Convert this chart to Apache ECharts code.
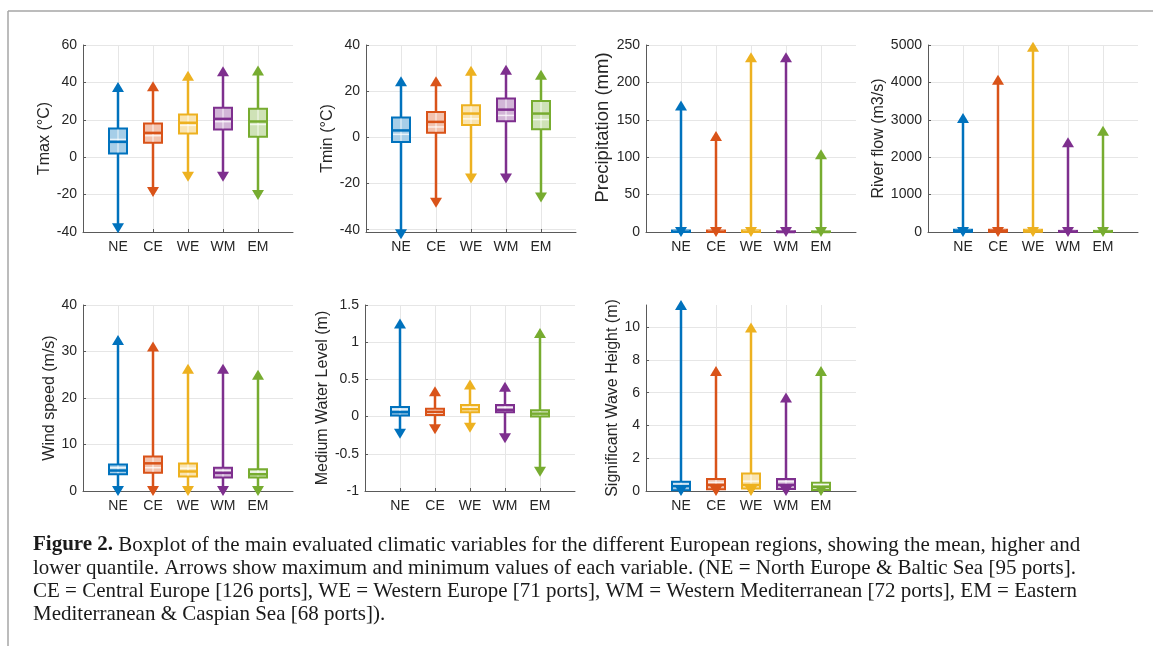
<!DOCTYPE html>
<html><head><meta charset="utf-8">
<script src="https://cdn.jsdelivr.net/npm/echarts@6/dist/echarts.min.js"></script>
<style>html,body{margin:0;padding:0;background:#fff}#c{width:1153px;height:646px}</style>
</head><body><div id="c"></div>
<script>
const regions = ['NE', 'CE', 'WE', 'WM', 'EM'];
const regionColors = ['#0072BD', '#D95319', '#EDB120', '#7E2F8E', '#77AC30'];

// each row: [min, lower quartile, median, upper quartile, max, mean] per region (NE, CE, WE, WM, EM)
const tmax = [[-38, 2.0, 8.2, 15.4, 37.5, 9.5], [-18.6, 7.7, 13.0, 18.0, 38.0, 11.5], [-10.5, 12.7, 18.4, 22.9, 43.5, 17.0], [-10.5, 14.8, 20.5, 26.4, 46.0, 19.0], [-20.2, 10.9, 19.1, 25.9, 46.3, 17.5]];
const tmin = [[-42, -2.0, 3.0, 8.6, 24.3, 1.3], [-28.3, 2.0, 6.7, 11.0, 24.3, 4.5], [-17.8, 5.4, 10.3, 13.9, 28.8, 8.0], [-17.8, 7.0, 12.0, 16.8, 29.3, 9.5], [-26.1, 3.5, 10.3, 15.7, 27.1, 7.7]];
const precipitation = [[0, 0, 0.3, 2.0, 169, 1.2], [0, 0, 0.3, 2.0, 128.5, 1.2], [0, 0, 0.3, 2.2, 233.5, 1.3], [0, 0, 0, 1.0, 233.5, 0.8], [0, 0, 0, 0.8, 104, 0.6]];
const riverFlow = [[0, 5, 20, 60, 3045, 40], [0, 5, 20, 60, 4071, 40], [0, 5, 20, 60, 4955, 40], [0, 2, 10, 30, 2402, 20], [0, 2, 10, 30, 2705, 20]];
const windSpeed = [[0, 3.6, 4.4, 5.7, 32.5, 5.0], [0, 3.9, 5.95, 7.4, 31.1, 5.0], [0, 3.1, 4.2, 5.9, 26.3, 4.9], [0, 2.9, 3.9, 5.0, 26.3, 4.4], [0, 2.9, 3.6, 4.7, 25.0, 4.1]];
const waterLevel = [[-0.23, 0.015, 0.06, 0.13, 1.25, 0.1], [-0.17, 0.02, 0.065, 0.107, 0.34, 0.08], [-0.15, 0.058, 0.1, 0.156, 0.43, 0.12], [-0.29, 0.058, 0.09, 0.156, 0.40, 0.12], [-0.74, 0.0, 0.04, 0.085, 1.125, 0.05]];
const waveHeight = [[0, 0.05, 0.3, 0.57, 11.35, 0.42], [0, 0.1, 0.37, 0.73, 7.32, 0.53], [0, 0.16, 0.37, 1.07, 9.98, 0.6], [0, 0.12, 0.37, 0.73, 5.7, 0.57], [0, 0.06, 0.26, 0.5, 7.32, 0.4]];

// y tick labels per panel
const tmaxTicks = [-40, -20, 0, 20, 40, 60];
const tminTicks = [-40, -20, 0, 20, 40];
const precipTicks = [0, 50, 100, 150, 200, 250];
const riverTicks = [0, 1000, 2000, 3000, 4000, 5000];
const windTicks = [0, 10, 20, 30, 40];
const waterTicks = [-1, -0.5, 0, 0.5, 1, 1.5];
const waveTicks = [0, 2, 4, 6, 8, 10];

const captionLines = [
  '{b|Figure 2.} Boxplot of the main evaluated climatic variables for the different European regions, showing the mean, higher and',
  'lower quantile. Arrows show maximum and minimum values of each variable. (NE = North Europe & Baltic Sea [95 ports].',
  'CE = Central Europe [126 ports], WE = Western Europe [71 ports], WM = Western Mediterranean [72 ports], EM = Eastern',
  'Mediterranean & Caspian Sea [68 ports]).'
];

const panels = [
  { name: 'Tmax (°C)', data: tmax, ticks: tmaxTicks, min: -40, max: 60, left: 83, top: 45, height: 187, gap: 25, nameSize: 16, namePad: 0 },
  { name: 'Tmin (°C)', data: tmin, ticks: tminTicks, min: -41, max: 40, left: 366, top: 45, height: 187, gap: 29, nameSize: 16, namePad: 0 },
  { name: 'Precipitation (mm)', data: precipitation, ticks: precipTicks, min: 0, max: 250, left: 646, top: 45, height: 187, gap: 28, nameSize: 18.5, namePad: 22 },
  { name: 'River flow (m3/s)', data: riverFlow, ticks: riverTicks, min: 0, max: 5000, left: 928, top: 45, height: 187, gap: 38, nameSize: 16, namePad: 0 },
  { name: 'Wind speed (m/s)', data: windSpeed, ticks: windTicks, min: 0, max: 40, left: 83, top: 305, height: 186, gap: 23, nameSize: 16, namePad: 0 },
  { name: 'Medium Water Level (m)', data: waterLevel, ticks: waterTicks, min: -1, max: 1.5, left: 365, top: 305, height: 186, gap: 33, nameSize: 16, namePad: 0 },
  { name: 'Significant Wave Height (m)', data: waveHeight, ticks: waveTicks, min: 0, max: 11.35, left: 646, top: 305, height: 186, gap: 24, nameSize: 16, namePad: 0 }
];

function mix(hex, a) {
  const n = parseInt(hex.slice(1), 16);
  const r = (n >> 16) & 255, g = (n >> 8) & 255, b = n & 255;
  const f = v => Math.round(v * a + 255 * (1 - a));
  return 'rgb(' + f(r) + ',' + f(g) + ',' + f(b) + ')';
}

function renderBox(params, api) {
  const x = api.value(0);
  const c = regionColors[params.dataIndex];
  const pMin = api.coord([x, api.value(1)]);
  const pQ1 = api.coord([x, api.value(2)]);
  const pMed = api.coord([x, api.value(3)]);
  const pQ3 = api.coord([x, api.value(4)]);
  const pMax = api.coord([x, api.value(5)]);
  const pMean = api.coord([x, api.value(6)]);
  const cx = pMin[0];
  const hw = 9, tw = 6, th = 5;
  const boxH = Math.max(pQ1[1] - pQ3[1], 0.5);
  return {
    type: 'group',
    children: [
      { type: 'line', shape: { x1: cx, y1: pMax[1], x2: cx, y2: pMin[1] }, style: { stroke: c, lineWidth: 2.5 } },
      { type: 'rect', shape: { x: cx - hw, y: pQ3[1], width: hw * 2, height: boxH }, style: { fill: mix(c, 0.35), stroke: c, lineWidth: 2 } },
      { type: 'line', shape: { x1: cx, y1: pQ3[1] + 1, x2: cx, y2: pQ1[1] - 1 }, style: { stroke: 'rgba(255,255,255,0.55)', lineWidth: 1.5 } },
      { type: 'line', shape: { x1: cx - hw + 1, y1: pMean[1], x2: cx + hw - 1, y2: pMean[1] }, style: { stroke: 'rgba(255,255,255,0.75)', lineWidth: 1.5 } },
      { type: 'line', shape: { x1: cx - hw, y1: pMed[1], x2: cx + hw, y2: pMed[1] }, style: { stroke: c, lineWidth: 2.5 } },
      { type: 'polygon', shape: { points: [[cx, pMax[1] - th], [cx - tw, pMax[1] + th], [cx + tw, pMax[1] + th]] }, style: { fill: c } },
      { type: 'polygon', shape: { points: [[cx, pMin[1] + th], [cx - tw, pMin[1] - th], [cx + tw, pMin[1] - th]] }, style: { fill: c } }
    ]
  };
}

const axisColor = '#5a5a5a';
const textColor = '#262626';
const gridColor = '#e6e6e6';
const sans = '"Liberation Sans", Arial, sans-serif';

const grids = [], xAxes = [], yAxes = [], series = [];
panels.forEach((p, i) => {
  grids.push({ left: p.left, top: p.top, width: 210, height: p.height, containLabel: false, outerBoundsMode: 'none' });
  xAxes.push({
    type: 'value', gridIndex: i, min: 0, max: 6, interval: 1,
    axisLine: { show: true, onZero: false, lineStyle: { color: axisColor, width: 1 } },
    axisTick: { show: true, inside: true, length: 3, customValues: [1, 2, 3, 4, 5], lineStyle: { color: axisColor } },
    axisLabel: { customValues: [1, 2, 3, 4, 5], formatter: v => regions[v - 1] || '', color: textColor, fontSize: 14, fontFamily: sans, margin: 8 },
    splitLine: { show: true, lineStyle: { color: gridColor, width: 1 } }
  });
  yAxes.push({
    type: 'value', gridIndex: i, min: p.min, max: p.max,
    name: p.name, nameLocation: 'middle', nameGap: p.gap, nameRotate: 90,
    nameTextStyle: { color: textColor, fontSize: p.nameSize, fontFamily: sans, padding: [0, 0, 0, p.namePad] },
    axisLine: { show: true, lineStyle: { color: axisColor, width: 1 } },
    axisTick: { show: true, inside: true, length: 3, customValues: p.ticks, lineStyle: { color: axisColor } },
    axisLabel: { customValues: p.ticks, formatter: v => String(v), color: textColor, fontSize: 14, fontFamily: sans, margin: 6 },
    splitLine: { show: true, lineStyle: { color: gridColor, width: 1 } }
  });
  series.push({
    type: 'custom', xAxisIndex: i, yAxisIndex: i, clip: false,
    renderItem: renderBox,
    encode: { x: 0, y: [1, 2, 3, 4, 5, 6] },
    data: p.data.map((row, k) => [k + 1].concat(row))
  });
});

const graphics = [
  { type: 'line', shape: { x1: 8, y1: 11, x2: 1153, y2: 11 }, style: { stroke: '#a6a6a6', lineWidth: 1.5 } },
  { type: 'line', shape: { x1: 8, y1: 11, x2: 8, y2: 646 }, style: { stroke: '#a6a6a6', lineWidth: 1.5 } }
];
captionLines.forEach((t, i) => {
  graphics.push({
    type: 'text', x: 33, y: 545 + i * 23,
    style: {
      text: t, fill: '#1a1a1a', font: '21px "Liberation Serif", "Times New Roman", serif',
      verticalAlign: 'middle', align: 'left',
      rich: { b: { fontWeight: 'bold', fontSize: 21, fontFamily: '"Liberation Serif", serif', fill: '#1a1a1a' } }
    }
  });
});

const chart = echarts.init(document.getElementById('c'), null, { renderer: 'canvas' });
chart.setOption({
  animation: false,
  backgroundColor: '#ffffff',
  grid: grids, xAxis: xAxes, yAxis: yAxes, series: series,
  graphic: graphics
});
</script></body></html>
